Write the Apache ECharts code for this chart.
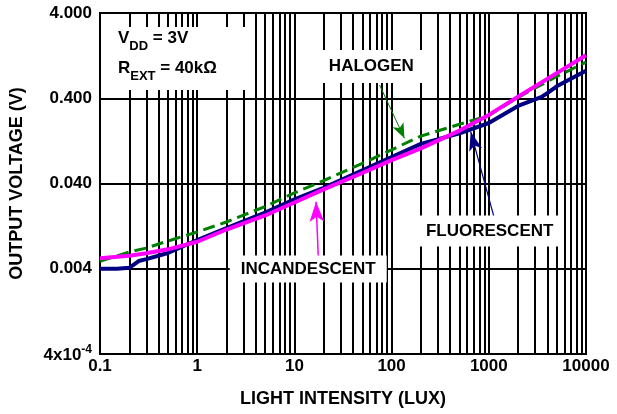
<!DOCTYPE html>
<html>
<head>
<meta charset="utf-8">
<script src="https://cdn.jsdelivr.net/npm/echarts@6/dist/echarts.min.js"></script>
<style>
html,body{margin:0;padding:0;background:#fff;}
#c{width:617px;height:414px;}
</style>
</head>
<body>
<div id="c"></div>
<script>
// ---- data ----
const xTickLabels = ['0.1', '1', '10', '100', '1000', '10000'];
const yTickLabels = ['4x10^-4', '0.004', '0.040', '0.400', '4.000'];
const xName = 'LIGHT INTENSITY (LUX)';
const yName = 'OUTPUT VOLTAGE (V)';

const incandescentLux = [0.1, 0.2, 0.3, 0.5, 1, 2, 5, 10, 20, 50, 100, 200, 500, 1000, 2000, 5000, 10000];
const incandescentV   = [0.00531, 0.00569, 0.00607, 0.00676, 0.0083, 0.01154, 0.01687, 0.02393, 0.0341, 0.0531, 0.0752, 0.1033, 0.167, 0.255, 0.417, 0.789, 1.28];

const fluorescentLux = [0.1, 0.15, 0.2, 0.25, 0.3, 0.5, 1, 2, 5, 10, 20, 50, 100, 200, 500, 1000, 2000, 3000, 3500, 4000, 5000, 10000];
const fluorescentV   = [0.004, 0.004, 0.0041, 0.00493, 0.00518, 0.00612, 0.0087, 0.01203, 0.01827, 0.026, 0.0356, 0.0572, 0.0818, 0.1165, 0.155, 0.205, 0.325, 0.389, 0.414, 0.46, 0.553, 0.84];

const halogenLux = [0.1, 0.2, 0.3, 0.5, 1, 2, 5, 10, 20, 50, 100, 200, 500, 1000, 2000, 5000, 10000];
const halogenV   = [0.0049, 0.00628, 0.007, 0.00846, 0.0108, 0.01414, 0.0215, 0.031, 0.0433, 0.0687, 0.0994, 0.144, 0.198, 0.25, 0.41, 0.72, 1.06];

// ---- chart ----
const FONT = '"Liberation Sans", Arial, Helvetica, sans-serif';
const pairs = (xs, ys) => xs.map((x, i) => [x, ys[i]]);

function boxLabel(text, padding) {
  return {
    show: true, position: 'inside', formatter: text,
    color: '#000', fontFamily: FONT, fontWeight: 'bold', fontSize: 17,
    backgroundColor: '#fff', padding: padding
  };
}
function arrow(color, width, from, to, head) {
  return {
    silent: true, animation: false,
    symbol: ['none', 'arrow'],
    lineStyle: { color: color, width: width, type: 'solid' },
    itemStyle: { color: color },
    label: { show: false },
    emphasis: { disabled: true },
    data: [[{ coord: from, symbolSize: 2 }, { coord: to, symbolSize: head }]]
  };
}

const chart = echarts.init(document.getElementById('c'), null, { renderer: 'canvas' });

const option = {
  animation: false,
  backgroundColor: '#fff',
  textStyle: { fontFamily: FONT },
  grid: { left: 97, right: 31, top: 13, bottom: 60, show: true, borderColor: '#000', borderWidth: 2, backgroundColor: 'transparent' },
  xAxis: {
    type: 'log', logBase: 10, min: 0.1, max: 10000,
    name: xName, nameLocation: 'middle', nameGap: 36,
    nameTextStyle: { color: '#000', fontFamily: FONT, fontWeight: 'bold', fontSize: 18 },
    axisLine: { show: false }, axisTick: { show: false },
    axisLabel: {
      interval: 0, margin: 4, color: '#000', fontFamily: FONT, fontWeight: 'bold', fontSize: 17,
      formatter: (v, i) => xTickLabels[i]
    },
    splitLine: { show: true, lineStyle: { color: '#000', width: 2 } },
    minorTick: { show: false, splitNumber: 9 },
    minorSplitLine: { show: true, lineStyle: { color: '#000', width: 2 } }
  },
  yAxis: [
    { type: 'log', logBase: 10, min: 0.0004, max: 4, show: false },
    {
      type: 'value', min: 0, max: 4, interval: 1, position: 'left',
      name: yName, nameLocation: 'middle', nameGap: 74,
      nameTextStyle: { color: '#000', fontFamily: FONT, fontWeight: 'bold', fontSize: 18 },
      axisLine: { show: false }, axisTick: { show: false },
      axisLabel: {
        margin: 8, color: '#000', fontFamily: FONT, fontWeight: 'bold', fontSize: 17,
        formatter: (v) => {
          const s = yTickLabels[Math.round(v)];
          if (s.indexOf('^') >= 0) {
            const p = s.split('^');
            return '{m|' + p[0] + '}{sup|' + p[1] + '}';
          }
          return s;
        },
        rich: {
          m: { fontFamily: FONT, fontWeight: 'bold', fontSize: 17, color: '#000', padding: [3, 0, 0, 0] },
          sup: { fontFamily: FONT, fontWeight: 'bold', fontSize: 12, color: '#000', verticalAlign: 'top' }
        }
      },
      splitLine: { show: true, lineStyle: { color: '#000', width: 2 } }
    }
  ],
  series: [
    {
      name: 'FLUORESCENT', type: 'line', xAxisIndex: 0, yAxisIndex: 0,
      data: pairs(fluorescentLux, fluorescentV),
      symbol: 'none', showSymbol: false, z: 3,
      lineStyle: { color: '#000080', width: 4 },
      markLine: arrow('#000080', 1.2, [1128, 0.01633], [651, 0.1621], [10, 19]),
      markPoint: {
        silent: true, animation: false,
        data: [
          { coord: [1020, 0.01109], symbolSize: 0, label: boxLabel('FLUORESCENT', [7, 7, 7, 7]) },
          {
            coord: [0.1048, 2.74], symbolSize: 0,
            label: {
              show: true, position: [0, 0], align: 'left', verticalAlign: 'top',
              backgroundColor: '#fff', padding: [3, 0, 0, 16], width: 133,
              formatter: '{m|V}{s|DD}{m| = 3V}\n{m|R}{s|EXT}{m| = 40k\u03A9}',
              rich: {
                m: { fontFamily: FONT, fontWeight: 'bold', fontSize: 17, color: '#000', lineHeight: 30, verticalAlign: 'top' },
                s: { fontFamily: FONT, fontWeight: 'bold', fontSize: 13, color: '#000', padding: [10, 0, 0, 0], verticalAlign: 'top' }
              }
            }
          }
        ]
      }
    },
    {
      name: 'HALOGEN', type: 'line', xAxisIndex: 0, yAxisIndex: 0,
      data: pairs(halogenLux, halogenV),
      symbol: 'none', showSymbol: false, z: 4,
      lineStyle: { color: '#008000', width: 3, type: [12, 6] },
      markLine: arrow('#008000', 1, [75.2, 0.572], [135.5, 0.1357], [9, 15]),
      markPoint: {
        silent: true, animation: false,
        data: [{ coord: [61.9, 0.943], symbolSize: 0, label: boxLabel('HALOGEN', [8, 10, 8, 10]) }]
      }
    },
    {
      name: 'INCANDESCENT', type: 'line', xAxisIndex: 0, yAxisIndex: 0,
      data: pairs(incandescentLux, incandescentV),
      symbol: 'none', showSymbol: false, z: 5,
      lineStyle: { color: '#ff00ff', width: 4 },
      markLine: arrow('#ff00ff', 1.5, [17.6, 0.00565], [16.7, 0.02446], [11, 20]),
      markPoint: {
        silent: true, animation: false,
        data: [{ coord: [13.87, 0.003975], symbolSize: 0, label: boxLabel('INCANDESCENT', [5, 11, 5, 11]) }]
      }
    }
  ]
};
chart.setOption(option);
</script>
</body>
</html>
